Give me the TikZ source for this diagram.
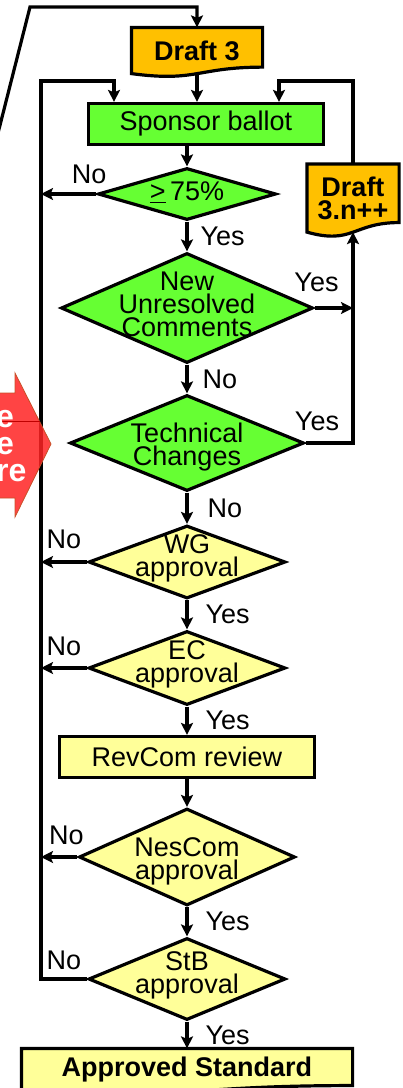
\documentclass[tikz,border=0pt]{standalone}
\usepackage{fontspec}
\setmainfont{Liberation Sans}
\usetikzlibrary{arrows.meta,shapes.geometric,calc,backgrounds}

\definecolor{docorange}{RGB}{255,192,0}
\definecolor{ballotgreen}{RGB}{102,255,51}
\definecolor{stageyellow}{RGB}{255,255,153}
\definecolor{cutred}{RGB}{255,35,35}
\definecolor{cutedge}{RGB}{200,80,40}

% wavy document outline behind a named node
\newcommand{\docpage}[2]{%
  \begin{pgfonlayer}{background}
    \filldraw[fill=#2,line width=3.2pt] (#1.north west) -- (#1.north east)
      -- ($(#1.north east)!0.86!(#1.south east)$)
      .. controls ($(#1.north)!0.86!(#1.south)$) and ($(#1.north)!1.19!(#1.south)$) .. (#1.south west)
      -- cycle;
  \end{pgfonlayer}}

\begin{document}
\fontsize{27}{23}\selectfont
\begin{tikzpicture}[x=1pt,y=-1pt,>={Stealth[length=12pt,width=12pt,inset=2.5pt]},line width=3.2pt,
                    node distance=100pt]
  \tikzstyle{box}=[rectangle,draw=black,line width=3.2pt,inner sep=0pt]
  \tikzstyle{decision}=[diamond,draw=black,line width=3.2pt,inner sep=0pt]
  \tikzstyle{doc}=[rectangle,inner sep=0pt,align=center,font=\bfseries]
  \tikzstyle{lab}=[inner sep=1pt]
  \tikzstyle{inside}=[align=center,inner sep=0pt,yshift=4pt]
  \tikzstyle{arr}=[->,line width=3.2pt]

  \useasboundingbox (0,0) rectangle (402,1088);

  \node[doc,minimum width=128pt,minimum height=43pt] (draft3) at (197,50.5) {Draft 3};
  \node[box,fill=ballotgreen,minimum width=235pt,minimum height=41pt] (ballot) at (206,124) {Sponsor ballot};
  \node[doc,minimum width=89pt,minimum height=65pt] (draftn) at (353,198) {Draft\\3.n++};

  \node[decision,fill=ballotgreen,minimum width=178pt,minimum height=52pt,
        label={[inner sep=0pt,yshift=2pt]center:\underline{>}\,75\%}] (pct) at (187,194) {};
  \node[decision,fill=ballotgreen,minimum width=252pt,minimum height=110pt,node distance=114pt,below of=pct,
        label={[inside]center:New\\Unresolved\\Comments}] (newcmt) {};
  \node[decision,fill=ballotgreen,minimum width=234pt,minimum height=96pt,node distance=135pt,below of=newcmt,
        label={[inside,yshift=-8pt]center:Technical\\Changes}] (techchg) {};
  \node[decision,fill=stageyellow,minimum width=197pt,minimum height=73pt,node distance=119pt,below of=techchg,
        label={[inside]center:WG\\approval}] (wg) {};
  \node[decision,fill=stageyellow,minimum width=197pt,minimum height=74pt,node distance=106pt,below of=wg,
        label={[inside]center:EC\\approval}] (ec) {};
  \node[box,fill=stageyellow,minimum width=255pt,minimum height=41pt,node distance=89pt,below of=ec] (revcom) {RevCom review};
  \node[decision,fill=stageyellow,minimum width=216pt,minimum height=97pt,node distance=100pt,below of=revcom,
        label={[inside,yshift=-8pt]center:NesCom\\approval}] (nescom) {};
  \node[decision,fill=stageyellow,minimum width=197pt,minimum height=82pt,node distance=122pt,below of=nescom,
        label={[inside]center:StB\\approval}] (stb) {};
  \node[doc,minimum width=328pt,minimum height=40pt,node distance=91pt,below of=stb] (approved) {Approved Standard};

  \docpage{draft3}{docorange}
  \docpage{draftn}{docorange}
  \docpage{approved}{stageyellow}

  \coordinate (prevpage) at (-3,137);
  \coordinate (prevbend) at (30,7);
  \coordinate (rail) at (41,81);
  \coordinate (lloop) at (114,81);
  \coordinate (rloop) at (279,81);

  \draw[arr] (prevpage) -- (prevbend) -| (draft3);
  \draw[arr] (draft3) -- (draft3 |- ballot.north);
  \draw[arr] (ballot.south -| pct) -- (pct);
  \draw[arr] (pct.west) -- node[lab,above=8pt,pos=0.13] {No} (pct.west -| rail);
  \draw[arr] (pct) -- node[lab,right=11pt] {Yes} (newcmt);
  \draw[arr] (newcmt.east) -- node[lab,above=14pt,pos=0.05] {Yes} (newcmt.east -| draftn);
  \draw[arr] (newcmt) -- node[lab,right=13pt] {No} (techchg);
  \draw[arr] (techchg.east) -| node[lab,above=10pt,pos=0.12] {Yes} (draftn);
  \draw[arr] (techchg) -- node[lab,right=18pt] {No} (wg);
  \draw[arr] (wg.west) -- node[lab,above=11pt] {No} (wg.west -| rail);
  \draw[arr] (wg) -- node[lab,right=16pt] {Yes} (ec);
  \draw[arr] (ec.west) -- node[lab,above=10pt] {No} (ec.west -| rail);
  \draw[arr] (ec) -- node[lab,right=16pt] {Yes} (revcom);
  \draw[arr] (revcom) -- (nescom);
  \draw[arr] (nescom.west) -- node[lab,above=10pt,pos=0.3] {No} (nescom.west -| rail);
  \draw[arr] (nescom) -- node[lab,right=16pt] {Yes} (stb);
  \draw[arr] (stb) -- node[lab,right=16pt] {Yes} (approved);
  % loops back to the ballot
  \draw[arr] (stb.west) -- node[lab,above=7pt] {No} (stb.west -| rail) -- (rail) -- (lloop) -- (lloop |- ballot.north);
  \draw[arr] (draftn.north) |- (rloop) -- (rloop |- ballot.north);

  % cut-off arrow from the previous stage
  \fill[cutred,fill opacity=0.85,draw=cutedge,line width=0.8pt]
    (-6,393) -- (15,393) -- (15,373) -- (51,444) -- (15,517) -- (15,498) -- (-6,498) -- cycle;
  \draw[red!75!black,line width=0.6pt] (-6,421) -- (40,421);
  \node[anchor=west,align=left,text=white,inner sep=0pt,font=\bfseries\fontsize{32}{27}\selectfont] (cuttext) at (-4,446) {e\\e\\re};
\end{tikzpicture}
\end{document}
